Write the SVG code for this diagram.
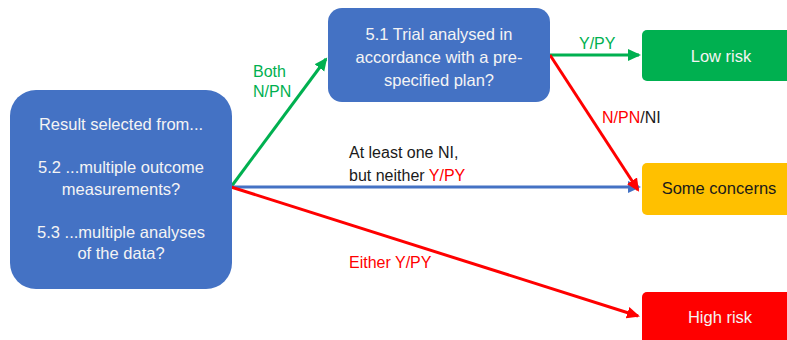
<svg xmlns="http://www.w3.org/2000/svg" width="787" height="340" viewBox="0 0 787 340">
<style>
.t{font-family:"Liberation Sans",Arial,sans-serif;font-size:16.5px;text-anchor:middle}
.w{fill:#f4f4f4}
.lbl{font-family:"Liberation Sans",Arial,sans-serif;font-size:16px}
.g{fill:#00B050}
.r{fill:#FF0000}
.k{fill:#1a1a1a}
.ln{stroke-width:3;fill:none}
</style>
<defs>
<marker id="ag" markerUnits="userSpaceOnUse" markerWidth="14" markerHeight="14" refX="11" refY="7" orient="auto"><path d="M0,1 L13,7 L0,13 z" fill="#00B050"/></marker>
<marker id="ab" markerUnits="userSpaceOnUse" markerWidth="14" markerHeight="14" refX="11" refY="7" orient="auto"><path d="M0,1 L13,7 L0,13 z" fill="#4472C4"/></marker>
<marker id="ar" markerUnits="userSpaceOnUse" markerWidth="14" markerHeight="14" refX="11" refY="7" orient="auto"><path d="M0,1 L13,7 L0,13 z" fill="#FF0000"/></marker>
</defs>
<rect width="787" height="340" fill="#ffffff"/>

<g id="connectors">
<line class="ln" x1="231" y1="187" x2="326" y2="59" stroke="#00B050" marker-end="url(#ag)"/>
<line class="ln" x1="231" y1="187" x2="639" y2="187" stroke="#4472C4" marker-end="url(#ab)"/>
<line class="ln" x1="231" y1="187" x2="638" y2="316" stroke="#FF0000" marker-end="url(#ar)"/>
<line class="ln" x1="550" y1="55" x2="639" y2="55" stroke="#00B050" marker-end="url(#ag)"/>
<line class="ln" x1="550" y1="55" x2="638" y2="190" stroke="#FF0000" marker-end="url(#ar)"/>
<text class="lbl g" x="253" y="77">Both</text>
<text class="lbl g" x="253" y="97">N/PN</text>
<text class="lbl g" x="579" y="49">Y/PY</text>
<text class="lbl" x="602" y="123"><tspan class="r">N/PN</tspan><tspan class="k">/NI</tspan></text>
<text class="lbl k" x="349" y="158">At least one NI,</text>
<text class="lbl" x="349" y="181"><tspan class="k">but neither </tspan><tspan class="r">Y/PY</tspan></text>
<text class="lbl r" x="349" y="268">Either Y/PY</text>
</g>

<g id="result">
<rect x="10" y="90" width="222" height="199" rx="26" fill="#4472C4"/>
<text class="t w" x="121" y="130">Result selected from...</text>
<text class="t w" x="121" y="173">5.2 ...multiple outcome</text>
<text class="t w" x="121" y="195">measurements?</text>
<text class="t w" x="121" y="238">5.3 ...multiple analyses</text>
<text class="t w" x="121" y="259">of the data?</text>
</g>

<g id="trial">
<rect x="328" y="8" width="222" height="94" rx="14" fill="#4472C4"/>
<text class="t w" x="439" y="40">5.1 Trial analysed in</text>
<text class="t w" x="439" y="63">accordance with a pre-</text>
<text class="t w" x="439" y="86">specified plan?</text>
</g>

<g id="low">
<rect x="642" y="30" width="170" height="51" rx="5" fill="#00B050"/>
<text class="t w" x="721" y="62">Low risk</text>
</g>

<g id="some">
<rect x="642" y="163" width="170" height="52" rx="5" fill="#FFC000"/>
<text class="t k" x="719" y="194">Some concerns</text>
</g>

<g id="high">
<rect x="642" y="292" width="170" height="60" rx="5" fill="#FF0000"/>
<text class="t w" x="720" y="323">High risk</text>
</g>
</svg>
